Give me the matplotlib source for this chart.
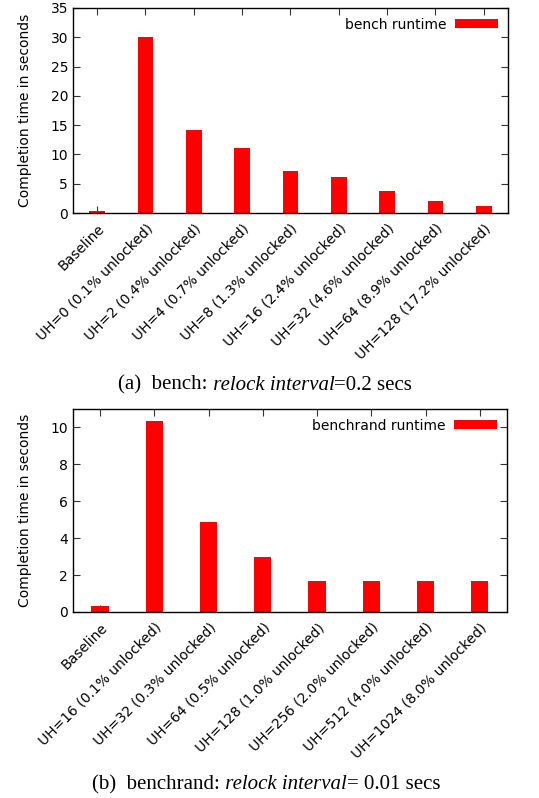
import matplotlib
matplotlib.use("Agg")
import matplotlib.pyplot as plt

# ======================
# DATA
# ======================
bench_labels = ["Baseline", "UH=0 (0.1% unlocked)", "UH=2 (0.4% unlocked)",
                "UH=4 (0.7% unlocked)", "UH=8 (1.3% unlocked)", "UH=16 (2.4% unlocked)",
                "UH=32 (4.6% unlocked)", "UH=64 (8.9% unlocked)", "UH=128 (17.2% unlocked)"]
bench_times = [0.4, 30.0, 14.1, 11.1, 7.1, 6.1, 3.7, 2.1, 1.2]

rand_labels = ["Baseline", "UH=16 (0.1% unlocked)", "UH=32 (0.3% unlocked)",
               "UH=64 (0.5% unlocked)", "UH=128 (1.0% unlocked)", "UH=256 (2.0% unlocked)",
               "UH=512 (4.0% unlocked)", "UH=1024 (8.0% unlocked)"]
rand_times = [0.35, 10.35, 4.9, 3.0, 1.7, 1.7, 1.7, 1.7]

# ======================
# STYLE
# ======================
plt.rcParams["font.family"] = "DejaVu Sans"

fig = plt.figure(figsize=(5.39, 7.98), dpi=100)


def draw(ax, labels, values, name, ymax, ystep):
    x = list(range(len(labels)))
    ax.bar(x, values, width=0.32, color="#ff0000", label=name)
    ax.set_axisbelow(True)
    ax.set_xlim(-0.5, len(labels) - 0.5)
    ax.set_ylim(0, ymax)
    ax.set_yticks(range(0, int(ymax) + 1, ystep))
    ax.set_xticks(x)
    ax.set_xticklabels(labels, rotation=45, ha="right", va="top",
                       rotation_mode="anchor", fontsize=10)
    ax.tick_params(axis="both", direction="in", length=5, width=0.8,
                   top=True, right=True, labelsize=10, color="#333333")
    ax.tick_params(axis="x", pad=6)
    ax.set_ylabel("Completion time in seconds", fontsize=10, labelpad=13)
    for s in ax.spines.values():
        s.set_linewidth(1.0)
    ax.legend(loc="upper right", frameon=False, markerfirst=False, fontsize=10,
              handlelength=3.1, handleheight=0.65, handletextpad=0.65,
              borderaxespad=0.3)


def caption(xc, y, parts, size=15):
    # parts: list of (text, style); laid out left to right, centred at xc
    renderer = fig.canvas.get_renderer()
    texts = []
    widths = []
    for s, style in parts:
        t = fig.text(0, y, s, fontsize=size, family="Liberation Serif",
                     style=style, va="center", ha="left")
        texts.append(t)
        widths.append(t.get_window_extent(renderer).width / fig.bbox.width)
    x = xc - sum(widths) / 2
    for t, w in zip(texts, widths):
        t.set_x(x)
        x += w


ax1 = fig.add_axes([0.1354, 0.733, 0.807, 0.257])
draw(ax1, bench_labels, bench_times, "bench runtime", 35, 5)

ax2 = fig.add_axes([0.1354, 0.2331, 0.805, 0.2544])
draw(ax2, rand_labels, rand_times, "benchrand runtime", 11, 2)

caption(0.492, 0.5175, [("(a)  bench:", "normal"), (" relock interval", "italic"),
                        ("=0.2 secs", "normal")])
caption(0.494, 0.0163, [("(b)  benchrand:", "normal"), (" relock interval", "italic"),
                        ("= 0.01 secs", "normal")])

fig.savefig("out.png", dpi=100)
